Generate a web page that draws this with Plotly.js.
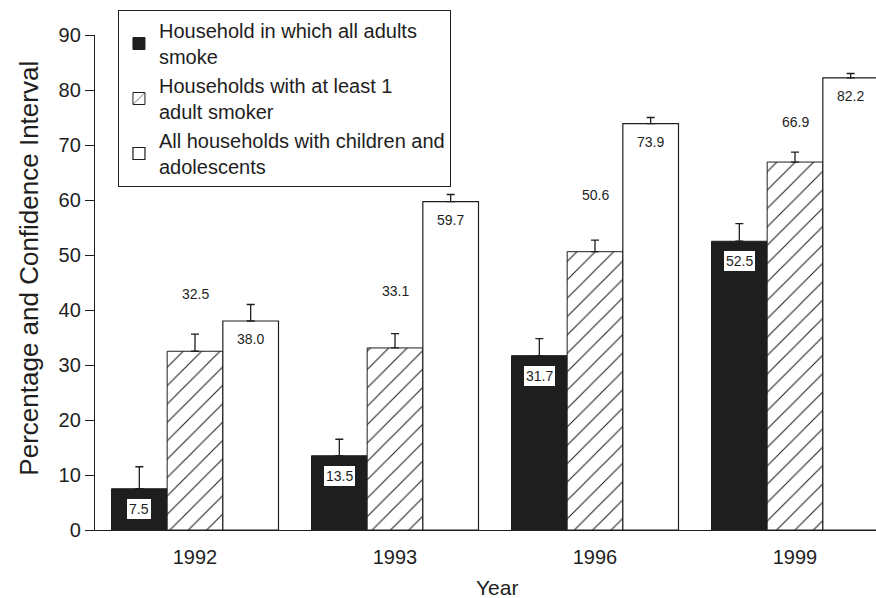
<!DOCTYPE html>
<html>
<head>
<meta charset="utf-8">
<script src="https://cdn.plot.ly/plotly-3.0.1.min.js"></script>
<style>html,body{margin:0;padding:0;background:#fff;}#chart{width:876px;height:598px;}</style>
</head>
<body>
<div id="chart"></div>
<script>
const years = ['1992', '1993', '1996', '1999'];
const seriesNames = [
  'Household in which all adults<br>smoke',
  'Households with at least 1<br>adult smoker',
  'All households with children and<br>adolescents'
];
const allAdults = [7.5, 13.5, 31.7, 52.5];
const atLeastOne = [32.5, 33.1, 50.6, 66.9];
const allHouseholds = [38.0, 59.7, 73.9, 82.2];
const allAdultsCI = [4.0, 3.0, 3.1, 3.2];
const atLeastOneCI = [3.1, 2.6, 2.1, 1.8];
const allHouseholdsCI = [3.0, 1.3, 1.1, 0.8];

const ink = '#1e1e1e';
const bargap = 0.165;
const barW = (1 - bargap) / 3;
const font = 'Arial, "Liberation Sans", sans-serif';

function errs(arr) {
  return {type: 'data', symmetric: false, array: arr, arrayminus: arr.map(() => 0),
          color: ink, thickness: 1.3, width: 4};
}

const traces = [
  {type: 'bar', name: seriesNames[0], x: years, y: allAdults,
   marker: {color: ink, line: {color: ink, width: 1}}, error_y: errs(allAdultsCI)},
  {type: 'bar', name: seriesNames[1], x: years, y: atLeastOne,
   marker: {color: '#ffffff', line: {color: ink, width: 1},
            pattern: {shape: '/', fgcolor: ink, bgcolor: '#ffffff', size: 13, solidity: 0.08}},
   error_y: errs(atLeastOneCI)},
  {type: 'bar', name: seriesNames[2], x: years, y: allHouseholds,
   marker: {color: '#ffffff', line: {color: ink, width: 1.2}}, error_y: errs(allHouseholdsCI)}
];

const annotations = [];
years.forEach((yr, i) => {
  annotations.push({x: i - barW, y: allAdults[i], xref: 'x', yref: 'y', text: allAdults[i].toFixed(1),
    showarrow: false, yshift: -20, bgcolor: '#ffffff', bordercolor: ink, borderwidth: 1, borderpad: 2,
    font: {family: font, size: 14, color: ink}});
  annotations.push({x: i, y: atLeastOne[i], xref: 'x', yref: 'y', text: atLeastOne[i].toFixed(1),
    showarrow: false, yshift: i === 3 ? 40 : 57,
    font: {family: font, size: 14, color: ink}});
  annotations.push({x: i + barW, y: allHouseholds[i], xref: 'x', yref: 'y', text: allHouseholds[i].toFixed(1),
    showarrow: false, yshift: -18,
    font: {family: font, size: 14, color: ink}});
});
annotations.push({x: 0.515, y: 0, xref: 'paper', yref: 'paper', text: 'Year', showarrow: false,
  yanchor: 'middle', yshift: -57, font: {family: font, size: 21, color: ink}});
annotations.push({x: -0.0845, y: 0.528, xref: 'paper', yref: 'paper', text: 'Percentage and Confidence Interval',
  showarrow: false, textangle: -90, xanchor: 'center', yanchor: 'middle',
  font: {family: font, size: 26, color: ink}});

const layout = {
  width: 876, height: 598,
  margin: {l: 95, r: 0, t: 35, b: 68},
  paper_bgcolor: '#ffffff', plot_bgcolor: '#ffffff',
  barmode: 'group', bargap: bargap, bargroupgap: 0,
  font: {family: font, color: ink},
  showlegend: true,
  legend: {x: 0.0294, y: 1.0505, xanchor: 'left', yanchor: 'top', bgcolor: '#ffffff',
           bordercolor: ink, borderwidth: 1, font: {family: font, size: 20, color: ink},
           tracegroupgap: 0, itemwidth: 30},
  xaxis: {type: 'category', range: [-0.5, 3.405], showline: true, linecolor: ink, linewidth: 1.2, ticks: '',
          ticklabelstandoff: 9,
          tickfont: {family: font, size: 20, color: ink}, showgrid: false, zeroline: false},
  yaxis: {range: [0, 90], dtick: 10, showline: true, linecolor: ink, linewidth: 1.2,
          ticks: 'outside', ticklen: 9, tickcolor: ink, showgrid: false, zeroline: false,
          tickfont: {family: font, size: 20, color: ink}},
  annotations: annotations
};

Plotly.newPlot('chart', traces, layout, {displayModeBar: false, staticPlot: true});
</script>
</body>
</html>
